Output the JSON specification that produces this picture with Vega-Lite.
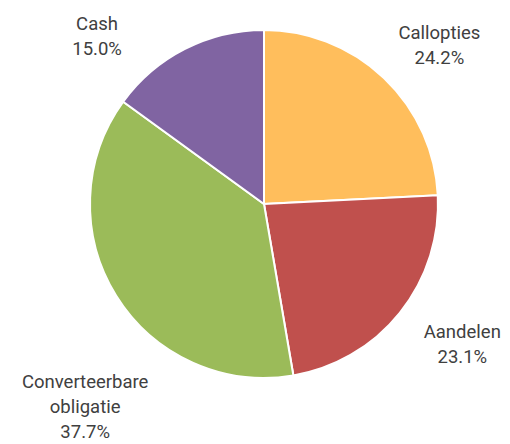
{
  "$schema": "https://vega.github.io/schema/vega-lite/v6.json",
  "width": 490,
  "height": 408,
  "autosize": {"type": "none"},
  "padding": {"left": 19, "top": 0, "right": 1, "bottom": 36},
  "background": "white",
  "config": {"view": {"stroke": null}},
  "data": {"values": [
    {"category": "Callopties", "value": 24.2, "order": 1, "label": "Callopties\n24.2%"},
    {"category": "Aandelen", "value": 23.1, "order": 2, "label": "Aandelen\n23.1%"},
    {"category": "Converteerbare obligatie", "value": 37.7, "order": 3, "label": "Converteerbare\nobligatie\n37.7%"},
    {"category": "Cash", "value": 15.0, "order": 4, "label": "Cash\n15.0%"}
  ]},
  "encoding": {
    "theta": {"field": "value", "type": "quantitative", "stack": true},
    "order": {"field": "order", "type": "quantitative"},
    "color": {
      "field": "category", "type": "nominal", "legend": null,
      "scale": {"domain": ["Callopties", "Aandelen", "Converteerbare obligatie", "Cash"],
                "range": ["#FFBE5C", "#C0504D", "#9BBB59", "#8064A2"]}
    }
  },
  "layer": [
    {"mark": {"type": "arc", "radius": 174, "stroke": "white", "strokeWidth": 2}},
    {"mark": {"type": "text", "radius": 240, "dx": 10, "dy": 3, "lineBreak": "\n", "font": "Roboto", "fontSize": 18.5, "lineHeight": 25, "align": "center", "baseline": "middle"},
     "encoding": {"text": {"condition": {"test": "datum.category === 'Callopties'", "field": "label"}, "value": ""}, "color": {"value": "#404040"}}},
    {"mark": {"type": "text", "radius": 240, "dx": 11, "dy": -22, "lineBreak": "\n", "font": "Roboto", "fontSize": 18.5, "lineHeight": 25, "align": "center", "baseline": "middle"},
     "encoding": {"text": {"condition": {"test": "datum.category === 'Aandelen'", "field": "label"}, "value": ""}, "color": {"value": "#404040"}}},
    {"mark": {"type": "text", "radius": 240, "dx": 25, "dy": 51, "lineBreak": "\n", "font": "Roboto", "fontSize": 18.5, "lineHeight": 25, "align": "center", "baseline": "middle"},
     "encoding": {"text": {"condition": {"test": "datum.category === 'Converteerbare obligatie'", "field": "label"}, "value": ""}, "color": {"value": "#404040"}}},
    {"mark": {"type": "text", "radius": 240, "dx": -58, "dy": 34, "lineBreak": "\n", "font": "Roboto", "fontSize": 18.5, "lineHeight": 25, "align": "center", "baseline": "middle"},
     "encoding": {"text": {"condition": {"test": "datum.category === 'Cash'", "field": "label"}, "value": ""}, "color": {"value": "#404040"}}}
  ]
}
